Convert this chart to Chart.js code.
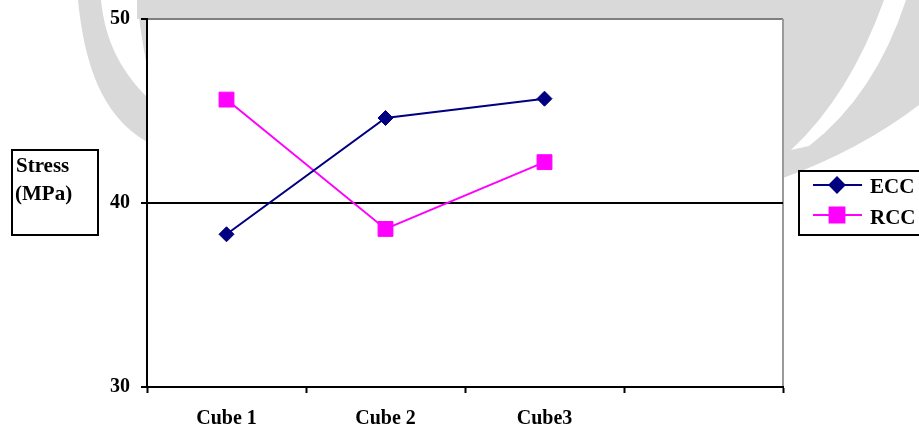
<!DOCTYPE html>
<html>
<head>
<meta charset="utf-8">
<script src="https://cdn.jsdelivr.net/npm/chart.js@4"></script>
<style>
  html, body { margin: 0; padding: 0; background: #fff; }
  canvas { display: block; }
</style>
</head>
<body>
<canvas id="myChart" width="919" height="433"></canvas>
<script>
  // data
  let cubes = ['Cube 1', 'Cube 2', 'Cube3', ''];
  let ecc = [38.3, 44.62, 45.67, null];
  let rcc = [45.62, 38.59, 42.22, null];
  let yTicks = [30, 40, 50];
  let seriesNames = ['ECC', 'RCC'];
  let seriesColors = ['#000080', '#FF00FF'];

  let serif = "'Liberation Serif', 'Times New Roman', serif";

  // grey scan marks in the background, the white plot box and its grey border
  let backdrop = {
    id: 'backdrop',
    beforeDraw(chart) {
      let c = chart.ctx, a = chart.chartArea;
      c.save();
      c.fillStyle = '#fff';
      c.fillRect(0, 0, chart.width, chart.height);
      c.fillStyle = '#d9d9d9';
      // left swoosh
      c.beginPath();
      c.moveTo(78, 0);
      c.bezierCurveTo(84, 60, 100, 115, 147, 142);
      c.lineTo(147, 97);
      c.bezierCurveTo(120, 70, 105, 40, 101, 0);
      c.closePath();
      c.fill();
      // top band
      c.fillRect(137, 0, 919 - 137, a.top);
      c.beginPath();
      c.moveTo(137, 0);
      c.lineTo(147, 0);
      c.lineTo(147, 67);
      c.quadraticCurveTo(140, 30, 137, 0);
      c.fill();
      // right swoosh
      c.beginPath();
      c.moveTo(a.right, 0);
      c.lineTo(919, 0);
      c.lineTo(919, 105);
      c.quadraticCurveTo(860, 150, a.right, 178);
      c.closePath();
      c.fill();
      c.fillStyle = '#fff';
      c.beginPath();
      c.moveTo(884, 0);
      c.quadraticCurveTo(850, 95, a.right + 8, 150);
      c.lineTo(a.right + 26, 146);
      c.quadraticCurveTo(875, 95, 906, 0);
      c.closePath();
      c.fill();
      // plot box
      c.fillStyle = '#fff';
      c.fillRect(a.left, a.top, a.right - a.left, a.bottom - a.top);
      c.strokeStyle = '#7f7f7f';
      c.lineWidth = 2;
      c.beginPath();
      c.moveTo(a.left, a.top);
      c.lineTo(a.right, a.top);
      c.stroke();
      c.strokeStyle = '#9a9a9a';
      c.beginPath();
      c.moveTo(a.right, a.top);
      c.lineTo(a.right, a.bottom);
      c.stroke();
      c.restore();
    }
  };

  // boxed axis title and the boxed legend
  let boxes = {
    id: 'boxes',
    afterDraw(chart) {
      let c = chart.ctx;
      c.save();
      c.lineWidth = 2;
      c.strokeStyle = '#000';
      c.strokeRect(12, 150, 86, 85);
      c.fillStyle = '#000';
      c.font = 'bold 21px ' + serif;
      c.textBaseline = 'alphabetic';
      c.textAlign = 'left';
      c.fillText('Stress', 16, 172);
      c.fillText('(MPa)', 15, 200);

      c.fillStyle = '#fff';
      c.fillRect(799, 171, 130, 64);
      c.strokeRect(799, 171, 130, 64);
      let baselines = [193, 224];
      chart.data.datasets.forEach((ds, i) => {
        let y = 185 + i * 30;
        c.strokeStyle = ds.borderColor;
        c.lineWidth = 2;
        c.beginPath();
        c.moveTo(813, y);
        c.lineTo(862, y);
        c.stroke();
        c.fillStyle = ds.borderColor;
        Chart.helpers.drawPoint(c, {
          pointStyle: ds.pointStyle,
          radius: ds.pointRadius,
          borderWidth: 1
        }, 837, y);
        c.fill();
        c.fillStyle = '#000';
        c.font = 'bold 21px ' + serif;
        c.fillText(ds.label, 870, baselines[i]);
      });
      c.restore();
    }
  };

  let ctx = document.getElementById('myChart').getContext('2d');
  let chart = new Chart(ctx, {
    type: 'line',
    data: {
      labels: cubes,
      datasets: [
        {
          label: seriesNames[0],
          data: ecc,
          borderColor: seriesColors[0],
          backgroundColor: seriesColors[0],
          borderWidth: 2,
          pointStyle: 'rectRot',
          pointRadius: 7.5,
          pointBorderWidth: 1,
          tension: 0
        },
        {
          label: seriesNames[1],
          data: rcc,
          borderColor: seriesColors[1],
          backgroundColor: seriesColors[1],
          borderWidth: 2,
          pointStyle: 'rect',
          pointRadius: 10.5,
          pointBorderWidth: 1,
          tension: 0
        }
      ]
    },
    options: {
      responsive: false,
      animation: false,
      events: [],
      layout: {
        padding: { left: 0, right: 136, top: 19, bottom: 0 }
      },
      plugins: {
        legend: { display: false },
        tooltip: { enabled: false }
      },
      scales: {
        x: {
          offset: true,
          afterFit(axis) {
            axis.height = 46;
            axis.paddingLeft = 0;
            axis.paddingRight = 0;
          },
          grid: {
            offset: true,
            drawOnChartArea: false,
            tickLength: 6,
            tickColor: '#000',
            tickWidth: 2
          },
          border: { display: true, color: '#000', width: 2 },
          ticks: {
            color: '#000',
            padding: 14,
            font: { family: serif, size: 20, weight: 'bold' },
            maxRotation: 0
          }
        },
        y: {
          min: yTicks[0],
          max: yTicks[yTicks.length - 1],
          afterBuildTicks(axis) {
            axis.ticks = yTicks.map(v => ({ value: v }));
          },
          afterFit(axis) {
            axis.width = 147;
            axis.paddingTop = 0;
            axis.paddingBottom = 0;
          },
          grid: {
            color: c => (c.tick && c.tick.value === 40 ? '#000' : 'rgba(0,0,0,0)'),
            lineWidth: 2,
            tickLength: 6,
            tickColor: '#000',
            tickWidth: 2
          },
          border: { display: true, color: '#000', width: 2 },
          ticks: {
            color: '#000',
            padding: 11,
            font: { family: serif, size: 20, weight: 'bold' }
          }
        }
      }
    },
    plugins: [backdrop, boxes]
  });
</script>
</body>
</html>
